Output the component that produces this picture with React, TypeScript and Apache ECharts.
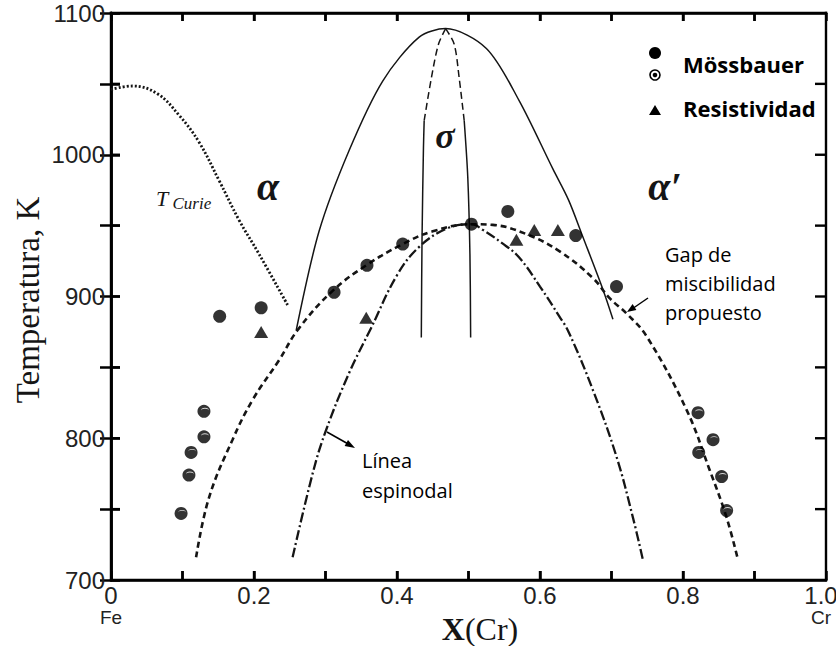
import React, { useEffect, useRef } from "react";
import * as echarts from "echarts";

// ---- axis ranges ----
const X_MIN = 0;
const X_MAX = 1;
const X_STEP = 0.1;
const T_MIN = 700;
const T_MAX = 1100;
const T_STEP = 50;

// ---- curves (X(Cr), T in K) ----
const curieLine: number[][] = [
  [0.0, 1046], [0.03, 1048.5], [0.065, 1043], [0.095, 1028], [0.123, 1009],
  [0.151, 982], [0.179, 954], [0.207, 930], [0.247, 894],
];
const alphaSigmaBoundary: number[][] = [
  [0.259, 876], [0.291, 946], [0.333, 1003], [0.38, 1052], [0.431, 1083],
  [0.468, 1089], [0.525, 1075], [0.571, 1038], [0.618, 990], [0.64, 968],
  [0.66, 942], [0.688, 905], [0.702, 884],
];
const sigmaLeftDashed: number[][] = [[0.468, 1089], [0.458, 1078], [0.448, 1054], [0.438, 1024]];
const sigmaRightDashed: number[][] = [[0.468, 1089], [0.48, 1078], [0.487, 1054], [0.494, 1024]];
const sigmaLeftSolid: number[][] = [[0.438, 1024], [0.437, 1005], [0.435, 940], [0.434, 871]];
const sigmaRightSolid: number[][] = [[0.494, 1024], [0.499, 984], [0.502, 930], [0.503, 871]];
const miscibilityGap: number[][] = [
  [0.119, 716], [0.137, 758], [0.17, 799], [0.198, 827], [0.235, 855], [0.262, 877],
  [0.31, 904], [0.357, 922], [0.408, 937], [0.45, 946], [0.504, 951], [0.534, 950.5],
  [0.581, 944], [0.627, 932], [0.674, 913], [0.697, 899], [0.721, 888], [0.749, 872],
  [0.805, 820], [0.837, 778], [0.861, 744], [0.877, 714],
];
const spinodal: number[][] = [
  [0.254, 716], [0.283, 777], [0.301, 806], [0.333, 846], [0.364, 878], [0.4, 915],
  [0.431, 935], [0.47, 948], [0.504, 951], [0.52, 947], [0.546, 938], [0.57, 928],
  [0.6, 907], [0.627, 886], [0.64, 875], [0.674, 834], [0.707, 787], [0.73, 744], [0.744, 714],
];

// ---- measured points ----
const mossbauerFilled: number[][] = [
  [0.152, 886], [0.21, 892], [0.312, 903], [0.358, 922], [0.408, 937],
  [0.504, 951], [0.555, 960], [0.65, 943], [0.707, 907],
];
const mossbauerRing: number[][] = [
  [0.13, 819], [0.13, 801], [0.112, 790], [0.109, 774], [0.098, 747],
  [0.821, 818], [0.842, 799], [0.822, 790], [0.854, 773], [0.861, 749],
];
const resistividad: number[][] = [
  [0.21, 875], [0.357, 885], [0.567, 940], [0.592, 947], [0.625, 947],
];

const TICK_FONT = '"Liberation Sans", Arial, sans-serif';
const TEXT_FONT = '"Open Sans", "Noto Sans", sans-serif';
const SERIF = '"Liberation Serif", "Times New Roman", serif';
const INK = "#151515";
const FRAME = "#000";

export default function App() {
  const ref = useRef<HTMLDivElement>(null);
  useEffect(() => {
    if (!ref.current) return;
    const chart = echarts.init(ref.current, undefined, { renderer: "svg" });
    const mkLine = () => ({ show: true, lineStyle: { color: FRAME, width: 2.5 } });
    const mkTick = (len: number) => ({ show: true, inside: true, length: len, lineStyle: { color: FRAME, width: 2.5 } });
    const xFmt = (v: number) => {
      const k = Math.round(v * 10);
      if (k % 2) return "";
      if (k === 0) return "{v|0}\n{s|Fe}";
      if (k === 10) return "{r|1.0}\n{c|Cr}";
      return "{v|" + (k / 10).toFixed(1) + "}";
    };
    const yFmt = (v: number) => (Math.round(v) % 100 === 0 ? String(Math.round(v)) : "");
    const lineSeries = (data: number[][], type: any, width: number, smooth: any = 0.4) => ({
      type: "line",
      data,
      smooth,
      showSymbol: false,
      symbol: "none",
      silent: true,
      lineStyle: { color: INK, width, type },
      z: 2,
    });
    const option: any = {
      animation: false,
      grid: { left: 111, right: 10, top: 13, bottom: 66, outerBoundsMode: "none" },
      xAxis: [
        {
          type: "value", min: X_MIN, max: X_MAX, interval: X_STEP, position: "bottom",
          axisLine: mkLine(), axisTick: mkTick(9), splitLine: { show: false },
          axisLabel: {
            show: true, formatter: xFmt, margin: 3, color: "#222",
            rich: {
              v: { fontFamily: TICK_FONT, fontSize: 24, color: "#222", lineHeight: 24 },
              s: { fontFamily: TICK_FONT, fontSize: 19, color: "#222", lineHeight: 21 },
              r: { fontFamily: TICK_FONT, fontSize: 24, color: "#222", lineHeight: 24, padding: [0, 10, 0, 0] },
              c: { fontFamily: TICK_FONT, fontSize: 19, color: "#222", lineHeight: 21, padding: [0, 10, 0, 0] },
            },
          },
        },
        {
          type: "value", min: X_MIN, max: X_MAX, interval: X_STEP, position: "top",
          axisLine: mkLine(), axisTick: mkTick(8), splitLine: { show: false }, axisLabel: { show: false },
        },
      ],
      yAxis: [
        {
          type: "value", min: T_MIN, max: T_MAX, interval: T_STEP, position: "left",
          axisLine: mkLine(), axisTick: mkTick(9), splitLine: { show: false },
          axisLabel: { show: true, formatter: yFmt, margin: 6, fontFamily: TICK_FONT, fontSize: 24, color: "#222" },
        },
        {
          type: "value", min: T_MIN, max: T_MAX, interval: T_STEP, position: "right",
          axisLine: mkLine(), axisTick: mkTick(11), splitLine: { show: false }, axisLabel: { show: false },
        },
      ],
      series: [
        lineSeries(curieLine, [2, 2], 2.8),
        lineSeries(alphaSigmaBoundary, "solid", 1.5, 0.3),
        lineSeries(sigmaLeftDashed, [7, 4], 1.5, 0.3),
        lineSeries(sigmaRightDashed, [7, 4], 1.5, 0.3),
        lineSeries(sigmaLeftSolid, "solid", 1.5, 0.3),
        lineSeries(sigmaRightSolid, "solid", 1.5, 0.3),
        lineSeries(miscibilityGap, [6, 4], 2.6),
        lineSeries(spinodal, [10, 3, 2, 3], 2.3),
        {
          type: "scatter", data: mossbauerFilled, symbol: "circle", symbolSize: 13,
          itemStyle: { color: "#000" }, z: 5, silent: true,
        },
        {
          type: "scatter", data: mossbauerRing, symbol: "circle", symbolSize: 13,
          itemStyle: { color: "#000" }, z: 5, silent: true,
        },
        {
          type: "scatter", data: mossbauerRing,
          symbol: "path://M0,5 A5,5 0 0 1 10,5 A5,3.5 0 0 0 0,5 Z",
          symbolSize: [8, 3], symbolOffset: [1, -2],
          itemStyle: { color: "#fff" }, z: 6, silent: true,
        },
        {
          type: "scatter", data: resistividad, symbol: "triangle", symbolSize: [14, 12],
          itemStyle: { color: "#000" }, z: 5, silent: true,
        },
      ],
    };
    chart.setOption(option);

    // frame and inward ticks as filled bars, placed through the axes' own scales
    const px = (x: number, y: number) =>
      chart.convertToPixel({ xAxisIndex: 0, yAxisIndex: 0 }, [x, y]) as number[];
    const [fx0, fy0] = px(X_MIN, T_MIN);
    const [fx1, fy1] = px(X_MAX, T_MAX);
    const W = 2.4;
    const h = W / 2;
    const bar = (x: number, y: number, w: number, hh: number) => ({
      type: "rect", shape: { x, y, width: w, height: hh }, style: { fill: FRAME },
    });
    const frame: any[] = [
      bar(fx0 - h, fy1 - h, fx1 - fx0 + W, W),
      bar(fx0 - h, fy0 - h, fx1 - fx0 + W, W),
      bar(fx0 - h, fy1 - h, W, fy0 - fy1 + W),
      bar(fx1 - h, fy1 - h, W, fy0 - fy1 + W),
    ];
    const nx = Math.round((X_MAX - X_MIN) / X_STEP);
    for (let i = 1; i < nx; i++) {
      const [tx] = px(X_MIN + i * X_STEP, T_MIN);
      frame.push(bar(tx - h, fy0 - 9, W, 9));
      frame.push(bar(tx - h, fy1, W, 8));
    }
    const ny = Math.round((T_MAX - T_MIN) / T_STEP);
    for (let i = 1; i < ny; i++) {
      const [, ty] = px(X_MIN, T_MIN + i * T_STEP);
      frame.push(bar(fx0, ty - h, 9, W));
      frame.push(bar(fx1 - 11, ty - h, 11, W));
    }

    const texts: any[] = [
      {
        type: "text", x: 28, y: 300, rotation: Math.PI / 2,
        style: { text: "Temperatura, K", fontFamily: SERIF, fontSize: 33, fill: INK, align: "center", verticalAlign: "middle" },
      },
      {
        type: "text", x: 480, y: 629,
        style: {
          text: "{b|X}{n|(Cr)}", align: "center", verticalAlign: "middle",
          rich: {
            b: { fontFamily: SERIF, fontSize: 32, fontWeight: "bold", fill: INK },
            n: { fontFamily: SERIF, fontSize: 32, fill: INK },
          },
        },
      },
      {
        type: "text", x: 156, y: 198,
        style: {
          text: "{t|T}{c| Curie}", align: "left", verticalAlign: "middle",
          rich: {
            t: { fontFamily: SERIF, fontSize: 22, fontStyle: "italic", fill: INK },
            c: { fontFamily: SERIF, fontSize: 17, fontStyle: "italic", fill: INK, padding: [10, 0, 0, 0] },
          },
        },
      },
      { type: "text", x: 268, y: 186, style: { text: "α", fontFamily: SERIF, fontSize: 40, fontStyle: "italic", fontWeight: "bold", fill: INK, align: "center", verticalAlign: "middle" } },
      { type: "text", x: 445, y: 136, style: { text: "σ", fontFamily: SERIF, fontSize: 36, fontStyle: "italic", fontWeight: "bold", fill: INK, align: "center", verticalAlign: "middle" } },
      { type: "text", x: 665, y: 186, style: { text: "α′", fontFamily: SERIF, fontSize: 40, fontStyle: "italic", fontWeight: "bold", fill: INK, align: "center", verticalAlign: "middle" } },
      // legend
      { type: "circle", shape: { cx: 655, cy: 53, r: 6 }, style: { fill: "#000" } },
      { type: "circle", shape: { cx: 655, cy: 75, r: 5 }, style: { fill: "#fff", stroke: "#000", lineWidth: 1.6 } },
      { type: "circle", shape: { cx: 655, cy: 75, r: 2.3 }, style: { fill: "#000" } },
      { type: "polygon", shape: { points: [[649, 115], [661, 115], [655, 105]] }, style: { fill: "#000" } },
      { type: "text", x: 683, y: 64, style: { text: "Mössbauer", fontFamily: TEXT_FONT, fontSize: 22, fontWeight: "bold", fill: "#000", align: "left", verticalAlign: "middle" } },
      { type: "text", x: 683, y: 108, style: { text: "Resistividad", fontFamily: TEXT_FONT, fontSize: 22, fontWeight: "bold", fill: "#000", align: "left", verticalAlign: "middle" } },
      // annotations
      { type: "text", x: 665, y: 240, style: { text: "Gap de\nmiscibilidad\npropuesto", fontFamily: TEXT_FONT, fontSize: 20, lineHeight: 29, fill: "#000", align: "left", verticalAlign: "top" } },
      { type: "text", x: 362, y: 445, style: { text: "Línea\nespinodal", fontFamily: TEXT_FONT, fontSize: 20, lineHeight: 30, fill: "#000", align: "left", verticalAlign: "top" } },
      { type: "line", shape: { x1: 648, y1: 298, x2: 632, y2: 309 }, style: { stroke: "#000", lineWidth: 1.5 } },
      { type: "polygon", shape: { points: [[627, 312], [632.6, 304.1], [636.4, 309.9]] }, style: { fill: "#000" } },
      { type: "line", shape: { x1: 327, y1: 432, x2: 350, y2: 445 }, style: { stroke: "#000", lineWidth: 1.5 } },
      { type: "polygon", shape: { points: [[355, 448], [344.6, 446], [348, 440]] }, style: { fill: "#000" } },
    ];
    chart.setOption({ graphic: [...frame, ...texts] });
    return () => chart.dispose();
  }, []);
  return <div ref={ref} style={{ position: "absolute", left: 0, top: 0, width: 836, height: 646 }} />;
}
